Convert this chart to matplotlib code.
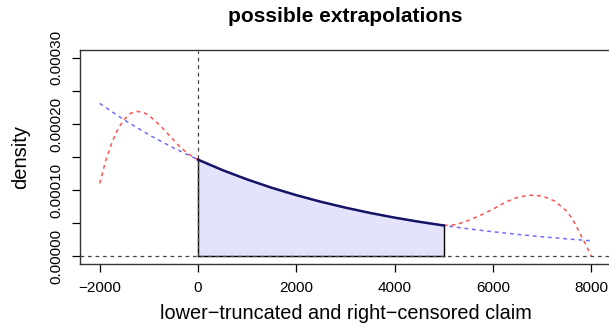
import numpy as np
import matplotlib.pyplot as plt

plt.rcParams['font.family'] = ['Liberation Sans', 'DejaVu Sans']

x_obs = [0, 500, 1000, 1500, 2000, 2500, 3000, 3500, 4000, 4500, 5000]
d_obs = [0.0001460, 0.0001301, 0.0001160, 0.0001034, 0.0000922, 0.0000822,
         0.0000733, 0.0000653, 0.0000582, 0.0000519, 0.0000463]

# blue dashed extrapolation
x_blue = [-2000, -1500, -1000, -500, 0, 500, 1000, 1500, 2000, 2500, 3000,
          3500, 4000, 4500, 5000, 5500, 6000, 6500, 7000, 7500, 8000]
d_blue = [0.0002312, 0.0002061, 0.0001837, 0.0001638, 0.0001460, 0.0001301,
          0.0001160, 0.0001034, 0.0000922, 0.0000822, 0.0000733, 0.0000653,
          0.0000582, 0.0000519, 0.0000463, 0.0000412, 0.0000368, 0.0000328,
          0.0000292, 0.0000260, 0.0000232]

# red dashed extrapolations
x_red_left = [-2000, -1875, -1750, -1625, -1500, -1375, -1250, -1125, -1000,
              -875, -750, -625, -500, -375, -250, -125, 0]
d_red_left = [0.000110, 0.000145, 0.000172, 0.000193, 0.000207, 0.000216,
              0.000219, 0.000218, 0.000213, 0.000205, 0.000196, 0.000186,
              0.000176, 0.000166, 0.000158, 0.000151, 0.000146]

x_red_right = [5000, 5250, 5500, 5750, 6000, 6250, 6500, 6750, 7000, 7250,
               7500, 7625, 7750, 7875, 8000]
d_red_right = [0.0000463, 0.0000475, 0.0000540, 0.0000620, 0.0000710,
               0.0000815, 0.0000890, 0.0000922, 0.0000910, 0.0000835,
               0.0000680, 0.0000550, 0.0000370, 0.0000190, 0.0]

fig = plt.figure(figsize=(6.09, 3.33), dpi=100)
ax = fig.add_axes([80 / 609, 69 / 333, 531 / 609, 214 / 333])

# shaded observed part
ax.fill_between(x_obs, 0, d_obs, color='#e3e3fb', lw=0)
ax.plot([0, 0], [0, d_obs[0]], color='black', lw=1)
ax.plot([x_obs[-1], x_obs[-1]], [0, d_obs[-1]], color='black', lw=1)
ax.plot([0, x_obs[-1]], [0, 0], color='black', lw=1)

ax.axhline(0, color='#444444', lw=0.9, ls=(0, (3, 3)))
ax.plot([0, 0], [0, 0.00031], color='#444444', lw=0.9, ls=(0, (3, 3)))

ax.plot(x_blue, d_blue, color='#5555ff', lw=1.1, ls=(0, (2.5, 2.5)), alpha=0.85)
ax.plot(x_red_left, d_red_left, color='#ff3333', lw=1.1, ls=(0, (2.5, 2.5)), alpha=0.85)
ax.plot(x_red_right, d_red_right, color='#ff3333', lw=1.1, ls=(0, (2.5, 2.5)), alpha=0.85)
ax.plot(x_obs, d_obs, color='#141466', lw=1.8)

ax.set_xlim(-2400, 8400)
ax.set_ylim(-0.000012, 0.000312)

ax.set_xticks([-2000, 0, 2000, 4000, 6000, 8000])
ax.set_xticklabels(['\u22122000', '0', '2000', '4000', '6000', '8000'])
yt = [0, 0.00005, 0.0001, 0.00015, 0.0002, 0.00025, 0.0003]
ax.set_yticks(yt)
ax.set_yticklabels(['0.00000', '', '0.00010', '', '0.00020', '', '0.00030'],
                   rotation=90, va='center')
ax.tick_params(direction='out', length=6, width=0.9, labelsize=11, pad=6)

for s in ax.spines.values():
    s.set_linewidth(1)
    s.set_color('#333333')

ax.set_title('possible extrapolations', fontsize=15, fontweight='bold', pad=20)
ax.set_xlabel('lower\u2212truncated and right\u2212censored claim', fontsize=14.3, labelpad=7)
ax.set_ylabel('density', fontsize=14.5, labelpad=14)

fig.savefig('out.png', dpi=100)
